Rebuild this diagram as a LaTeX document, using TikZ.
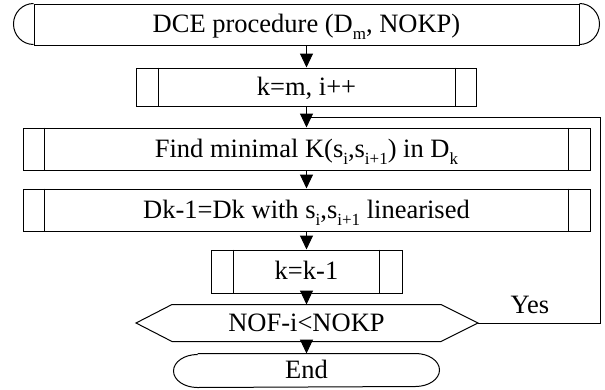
\documentclass[tikz,border=0pt]{standalone}
\usepackage{fontspec}
\setmainfont{Liberation Serif}
\usetikzlibrary{arrows.meta}
\newcommand\lowsub[1]{\raisebox{-0.27em}{\fontsize{17}{17}\selectfont #1}}
\begin{document}
\begin{tikzpicture}[x=1pt,y=-1pt,line width=1pt,
	txt/.style={inner sep=0pt,text height=19pt,text depth=3pt,font=\fontsize{26.5}{30}\selectfont},
	box/.style={txt,draw,minimum height=42pt},
	flow/.style={-{Triangle[width=13pt,length=14pt]}}]
		\useasboundingbox (0,0) rectangle (605,389);
		% set up nodes
		\node[box,minimum width=545pt,minimum height=41pt] (start) at (306.5,24.5) {DCE procedure (D\lowsub{m}, NOKP)};
		\node[box,minimum width=340pt,minimum height=38pt] (init) at (306.5,87) {k=m, i++};
		\node[box,minimum width=567pt] (find) at (306.5,149) {Find minimal K(s\lowsub{i},s\lowsub{i+1}) in D\lowsub{k}};
		\node[box,minimum width=567pt] (lin) at (306.5,210) {Dk-1=Dk with s\lowsub{i},s\lowsub{i+1} linearised};
		\node[box,minimum width=191pt,minimum height=43pt] (dec) at (306.5,271.5) {k=k-1};
		\node[txt,minimum width=268pt,minimum height=36pt] (test) at (306.5,323) {NOF-i<NOKP};
		\node[txt,minimum width=217pt,minimum height=33pt] (end) at (306.5,370.5) {End};
		\node[txt] (yes) at (530,305) {Yes};
		\coordinate (join) at (306.5,117);
		\coordinate (testtip) at ([xshift=37pt]test.east);
		% outlines
		\draw (start.north west) arc[start angle=90,end angle=270,x radius=20pt,y radius=20.5pt];
		\draw (start.north east) arc[start angle=90,end angle=-90,x radius=20pt,y radius=20.5pt];
		\foreach \n/\d in {init/22,find/22,lin/22,dec/23} {
			\draw ([xshift=\d pt]\n.north west) -- ([xshift=\d pt]\n.south west);
			\draw ([xshift=-\d pt]\n.north east) -- ([xshift=-\d pt]\n.south east);
		}
		\draw (test.north west) -- (test.north east) -- (testtip) -- (test.south east)
			-- (test.south west) -- ([xshift=-36pt]test.west) -- cycle;
		\draw (end.north west) -- (end.north east)
			arc[start angle=90,end angle=-90,x radius=24pt,y radius=16.5pt]
			-- (end.south west) arc[start angle=270,end angle=90,x radius=24pt,y radius=16.5pt];
		% connect them
		\draw[flow] (start) -- (init);
		\draw[flow] (init) -- (find);
		\draw[flow] (find) -- (lin);
		\draw[flow] (lin) -- (dec);
		\draw[flow] (dec) -- (test);
		\draw[flow] (test) -- (end);
		\draw (testtip) -| ([xshift=293.5pt]join) -- (join);
	\end{tikzpicture}
\end{document}
